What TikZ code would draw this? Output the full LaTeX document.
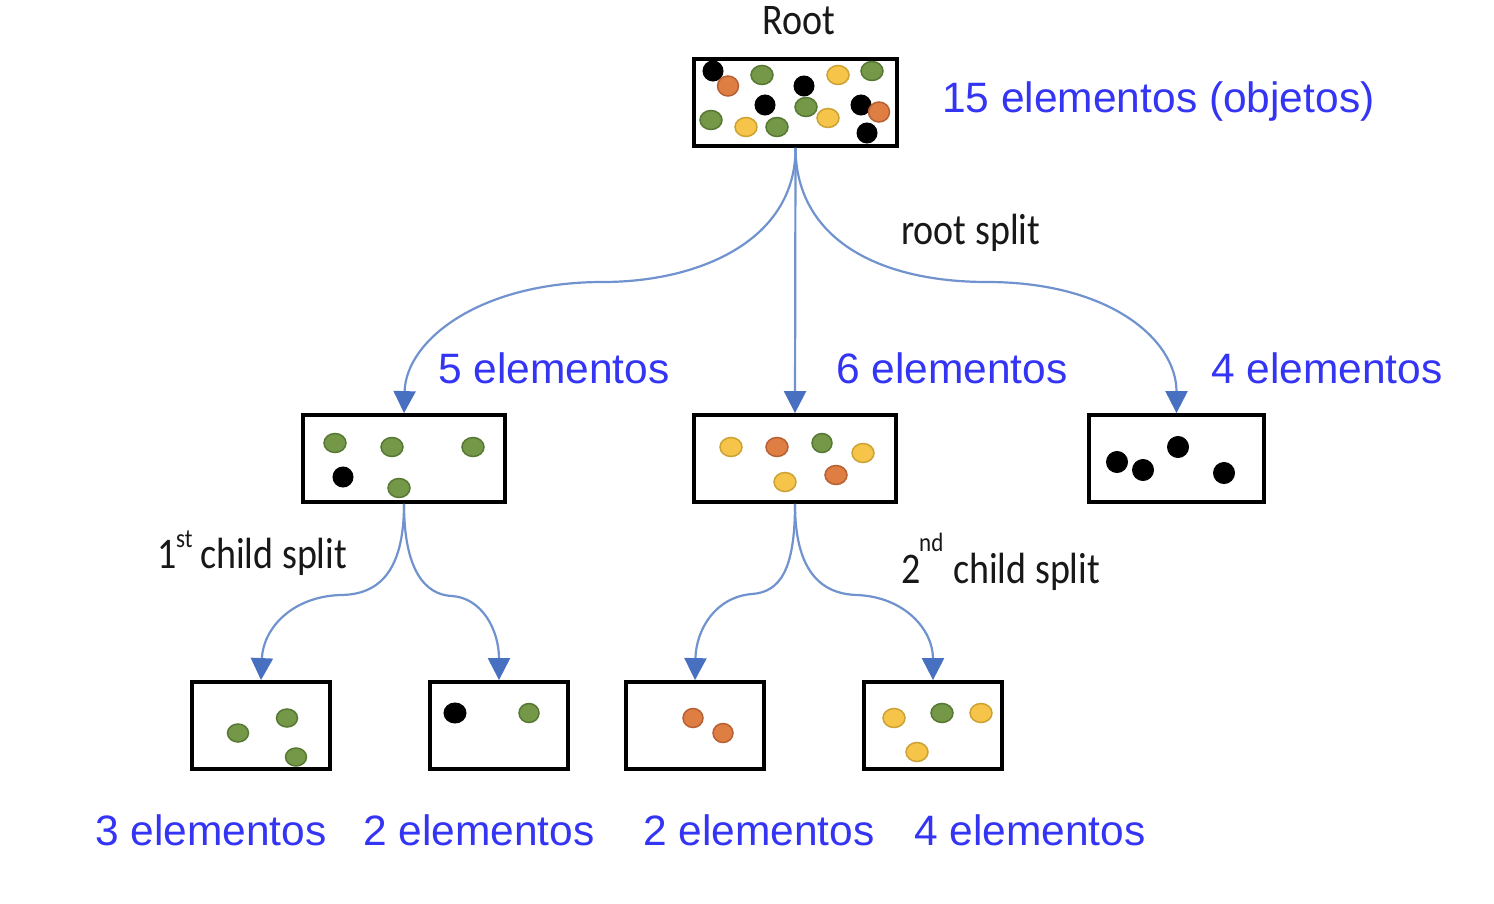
\documentclass[tikz,border=0pt]{standalone}
\usepackage{graphicx}
\usepackage{fontspec}
\setmainfont{Liberation Sans}
\newfontfamily\calfont{Carlito}
\usetikzlibrary{arrows.meta}
\definecolor{bluetxt}{RGB}{52,52,245}
\definecolor{arrline}{RGB}{112,146,206}
\definecolor{arrhead}{RGB}{72,112,192}
\definecolor{gfill}{RGB}{116,152,72}
\definecolor{gedge}{RGB}{86,120,52}
\definecolor{ofill}{RGB}{222,126,66}
\definecolor{oedge}{RGB}{182,96,52}
\definecolor{yfill}{RGB}{246,196,72}
\definecolor{yedge}{RGB}{204,162,52}
\definecolor{ktxt}{RGB}{24,24,24}
\newcommand{\tallk}[1]{\scalebox{1}[1.15]{#1}}
\begin{document}
\begin{tikzpicture}[x=1pt,y=-1pt,
  box/.style={draw=black, line width=3.8pt, fill=white, inner sep=0pt, minimum height=87pt},
  arr/.style={draw=arrline, line width=2.2pt, -{Triangle[width=22pt,length=22pt,color=arrhead]}},
  blab/.style={text=bluetxt, font=\fontsize{42.5}{48}\selectfont, anchor=base west, inner sep=0pt},
  klab/.style={text=ktxt, font=\calfont\fontsize{38}{44}\selectfont, anchor=base west, inner sep=0pt},
  ksup/.style={text=ktxt, font=\calfont\fontsize{23}{26}\selectfont, anchor=base west, inner sep=0pt},
  gd/.style={fill=gfill, draw=gedge, line width=1.5pt},
  od/.style={fill=ofill, draw=oedge, line width=1.5pt},
  yd/.style={fill=yfill, draw=yedge, line width=1.5pt},
  bd/.style={fill=black, draw=black, line width=1pt}]
\useasboundingbox (0,0) rectangle (1494,904);
\fill[white] (0,0) rectangle (1494,904);

% boxes
\node[box, minimum width=203pt] (root) at (795.5,102.5) {};
\node[box, minimum width=202pt] (l2a) at (404,458.5) {};
\node[box, minimum width=202pt] (l2b) at (795,458.5) {};
\node[box, minimum width=175pt] (l2c) at (1176.5,458.5) {};
\node[box, minimum width=138pt] (l3a) at (261,725.5) {};
\node[box, minimum width=138pt] (l3b) at (499,725.5) {};
\node[box, minimum width=138pt] (l3c) at (695,725.5) {};
\node[box, minimum width=138pt] (l3d) at (933,725.5) {};

% dots: root
\foreach \x/\y in {713/71,804/86,765/105,861/105,867/133} \filldraw[bd] (\x,\y) circle (10);
\foreach \x/\y in {762/75,872/71,806/107,711/120,777/127} \filldraw[gd] (\x,\y) ellipse (11 and 9.5);
\foreach \x/\y in {838/75,828/118,746/127} \filldraw[yd] (\x,\y) ellipse (11 and 9.5);
\foreach \x/\y in {728/86,879/112} \filldraw[od] (\x,\y) ellipse (10.5 and 10);
% level 2
\foreach \x/\y in {335/443,392/447,473/447,399/488} \filldraw[gd] (\x,\y) ellipse (11 and 9.5);
\filldraw[bd] (343,477) circle (10);
\foreach \x/\y in {731/447,863/453,785/482} \filldraw[yd] (\x,\y) ellipse (11 and 9.5);
\foreach \x/\y in {777/447,836/475} \filldraw[od] (\x,\y) ellipse (11 and 9.5);
\filldraw[gd] (822,443) ellipse (10 and 9.5);
\foreach \x/\y in {1117/462,1143/470,1178/447,1224/473} \filldraw[bd] (\x,\y) circle (10.5);
% level 3
\foreach \x/\y in {238/733,287/718,296/757} \filldraw[gd] (\x,\y) ellipse (10.5 and 9);
\filldraw[bd] (455,713) ellipse (11 and 10);
\filldraw[gd] (529,713) ellipse (10 and 9.5);
\foreach \x/\y in {693/718,723/733} \filldraw[od] (\x,\y) ellipse (10 and 9.5);
\foreach \x/\y in {894/718,981/713,917/752} \filldraw[yd] (\x,\y) ellipse (11 and 9.5);
\filldraw[gd] (942,713) ellipse (11 and 9.5);

% connectors
\draw[arr] (root.south) .. controls (796,240) and (700,282) .. (603,282) .. controls (480,282) and (406,340) .. (l2a.north);
\draw[arr] (root.south) -- (l2b.north);
\draw[arr] (root.south) .. controls (796,240) and (880,282) .. (987,282) .. controls (1110,282) and (1176.5,340) .. (l2c.north);
\draw[arr] (l2a.south) .. controls (404,570) and (380,595) .. (340,595) .. controls (290,597) and (263,630) .. (l3a.north);
\draw[arr] (l2a.south) .. controls (404,570) and (425,595) .. (452,596) .. controls (482,598) and (499,630) .. (l3b.north);
\draw[arr] (l2b.south) .. controls (795,570) and (780,592) .. (752,594) .. controls (715,597) and (696,630) .. (l3c.north);
\draw[arr] (l2b.south) .. controls (795,570) and (820,594) .. (857,595) .. controls (905,597) and (933,630) .. (l3d.north);

% labels
\node[klab, anchor=base] (troot) at (799,35) {\tallk{Root}};
\node[blab] (t15) at (942,113) {15 elementos (objetos)};
\node[klab] (trs) at (901,244) {\tallk{root split}};
\node[blab] (t5) at (438,383) {5 elementos};
\node[blab] (t6) at (836,383) {6 elementos};
\node[blab] (t4) at (1211,383) {4 elementos};
\node[blab] (t3a) at (95,845) {3 elementos};
\node[blab] (t2b) at (363,845) {2 elementos};
\node[blab] (t2c) at (643,845) {2 elementos};
\node[blab] (t4d) at (914,845) {4 elementos};
\node[klab] (t1) at (157,568) {\tallk{1}};
\node[ksup] (t1s) at (176,547) {\tallk{st}};
\node[klab] (t1c) at (200,568) {\tallk{child split}};
\node[klab] (t2) at (901,583) {\tallk{2}};
\node[ksup] (t2s) at (919,551) {\tallk{nd}};
\node[klab] (t2c2) at (953,583) {\tallk{child split}};
\end{tikzpicture}
\end{document}
